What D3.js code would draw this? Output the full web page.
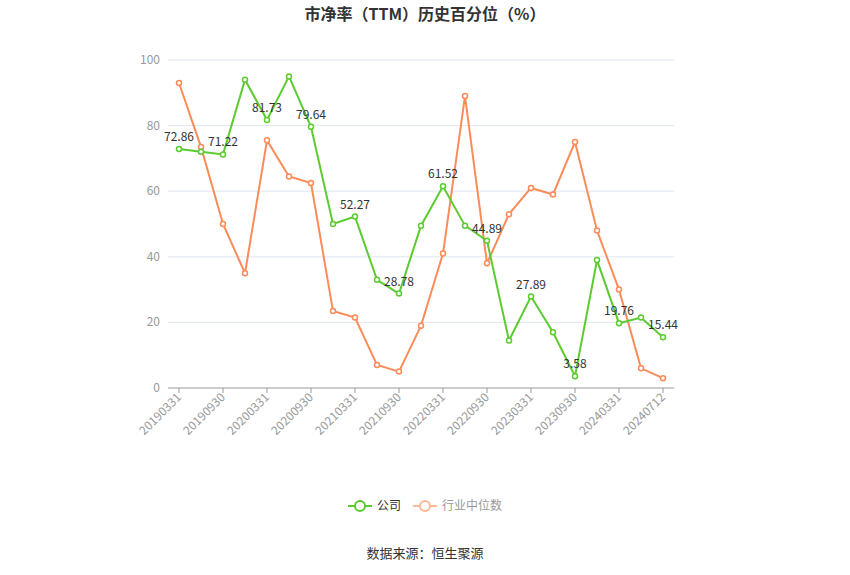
<!DOCTYPE html><html><head><meta charset="utf-8"><script src="https://cdn.jsdelivr.net/npm/d3@7"></script>
<style>body{margin:0;background:#fff;font-family:"Noto Sans CJK SC","Noto Sans",sans-serif}</style></head><body><svg id="c" width="850" height="575"></svg><script>
const categories=["20190331","20190630","20190930","20191231","20200331","20200630","20200930","20201231","20210331","20210630","20210930","20211231","20220331","20220630","20220930","20221231","20230331","20230630","20230930","20231231","20240331","20240630","20240712"];
const company=[72.86,72,71.22,94,81.73,95,79.64,50,52.27,33,28.78,49.5,61.52,49.5,44.89,14.5,27.89,17,3.58,39,19.76,21.5,15.44];
const industry=[93,73.5,50,35,75.5,64.5,62.5,23.5,21.5,7,5,19,41,89,38,53,61,59,75,48,30,6,3];
const yTicks=[0,20,40,60,80,100];
const labelIdx=[0,2,4,6,8,10,12,14,16,18,20,22];
const svg=d3.select("#c");
const x=d3.scaleBand().domain(categories).range([168,674]);
const y=d3.scaleLinear().domain([0,100]).range([388,60]);
const cx=d=>x(d)+x.bandwidth()/2;
svg.append("text").attr("x",425).attr("y",20).attr("text-anchor","middle").attr("font-size",16).attr("font-weight","bold").attr("fill","#333").text("市净率（TTM）历史百分位（%）");
yTicks.forEach(t=>{
 svg.append("line").attr("x1",168).attr("x2",674).attr("y1",y(t)).attr("y2",y(t)).attr("stroke",t===0?"#999":"#e0e6f1");
 svg.append("text").attr("x",160).attr("y",y(t)+4).attr("text-anchor","end").attr("font-size",12).attr("fill","#999").text(t);
});
labelIdx.forEach(i=>{
 const px=cx(categories[i]);
 svg.append("line").attr("x1",px).attr("x2",px).attr("y1",388).attr("y2",393).attr("stroke","#999");
 svg.append("text").attr("transform",`translate(${px+3},${398}) rotate(-45)`).attr("text-anchor","end").attr("font-size",12).attr("fill","#999").text(categories[i]);
});
function series(vals,color){
 const line=d3.line().x((d,i)=>cx(categories[i])).y(d=>y(d));
 svg.append("path").attr("d",line(vals)).attr("fill","none").attr("stroke",color).attr("stroke-width",2);
 vals.forEach((v,i)=>svg.append("circle").attr("cx",cx(categories[i])).attr("cy",y(v)).attr("r",2.5).attr("fill","#fff").attr("stroke",color).attr("stroke-width",1.5));
}
series(industry,"#fb8c5a");
series(company,"#5ccb2f");
labelIdx.forEach(i=>svg.append("text").attr("x",cx(categories[i])).attr("y",y(company[i])-8).attr("text-anchor","middle").attr("font-size",12).attr("fill","#333").text(company[i].toFixed(2)));
// legend
const lg=svg.append("g");
lg.append("line").attr("x1",348).attr("x2",372).attr("y1",506).attr("y2",506).attr("stroke","#5ccb2f").attr("stroke-width",2);
lg.append("circle").attr("cx",360).attr("cy",506).attr("r",5).attr("fill","#fff").attr("stroke","#5ccb2f").attr("stroke-width",2);
lg.append("text").attr("x",377).attr("y",510).attr("font-size",12).attr("fill","#333").text("公司");
lg.append("line").attr("x1",413).attr("x2",437).attr("y1",506).attr("y2",506).attr("stroke","#fdb89a").attr("stroke-width",2);
lg.append("circle").attr("cx",425).attr("cy",506).attr("r",5).attr("fill","#fff").attr("stroke","#fdb89a").attr("stroke-width",2);
lg.append("text").attr("x",442).attr("y",510).attr("font-size",12).attr("fill","#999").text("行业中位数");
svg.append("text").attr("x",425).attr("y",558).attr("text-anchor","middle").attr("font-size",13).attr("fill","#333").text("数据来源：恒生聚源");
</script></body></html>
